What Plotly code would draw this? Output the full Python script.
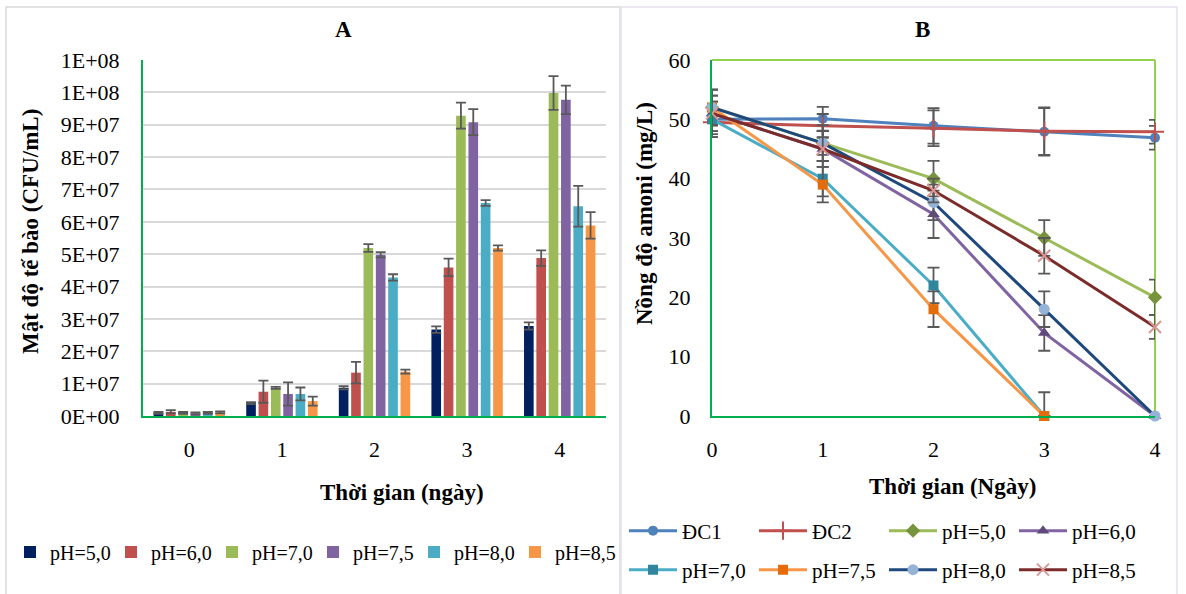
import plotly.graph_objects as go

W, H = 1186, 594
FONT = "Liberation Serif, Times New Roman, Tinos, serif"

# ---------------- Panel A data ----------------
days_a = ["0", "1", "2", "3", "4"]
ph_names = ["pH=5,0", "pH=6,0", "pH=7,0", "pH=7,5", "pH=8,0", "pH=8,5"]
bar_colors = ["#002060", "#C0504D", "#9BBB59", "#8064A2", "#4BACC6", "#F79646"]
cells_ph50 = [1.0e6, 4.0e6, 8.7e6, 2.67e7, 2.78e7]
cells_ph60 = [1.3e6, 7.5e6, 1.34e7, 4.59e7, 4.88e7]
cells_ph70 = [1.0e6, 8.7e6, 5.19e7, 9.28e7, 9.98e7]
cells_ph75 = [0.8e6, 6.8e6, 4.98e7, 9.08e7, 9.77e7]
cells_ph80 = [1.0e6, 6.8e6, 4.28e7, 6.58e7, 6.48e7]
cells_ph85 = [1.1e6, 4.6e6, 1.37e7, 5.19e7, 5.89e7]
err_ph50 = [0.3e6, 0.3e6, 0.5e6, 1.0e6, 1.1e6]
err_ph60 = [0.5e6, 3.4e6, 3.3e6, 2.7e6, 2.4e6]
err_ph70 = [0.3e6, 0.3e6, 1.2e6, 4.0e6, 5.2e6]
err_ph75 = [0.3e6, 3.6e6, 0.8e6, 4.0e6, 4.4e6]
err_ph80 = [0.3e6, 2.0e6, 1.0e6, 0.9e6, 6.3e6]
err_ph85 = [0.3e6, 1.4e6, 0.6e6, 0.8e6, 4.1e6]
cells = [cells_ph50, cells_ph60, cells_ph70, cells_ph75, cells_ph80, cells_ph85]
cells_err = [err_ph50, err_ph60, err_ph70, err_ph75, err_ph80, err_ph85]
ytick_vals_a = [0, 1e7, 2e7, 3e7, 4e7, 5e7, 6e7, 7e7, 8e7, 9e7, 1e8, 1.1e8]
ytick_text_a = ["0E+00", "1E+07", "2E+07", "3E+07", "4E+07", "5E+07", "6E+07",
                "7E+07", "8E+07", "9E+07", "1E+08", "1E+08"]

# ---------------- Panel B data ----------------
days_b = [0, 1, 2, 3, 4]
line_names = ["ĐC1", "ĐC2", "pH=5,0", "pH=6,0", "pH=7,0", "pH=7,5", "pH=8,0", "pH=8,5"]
amoni_dc1 = [50, 50.1, 48.9, 47.9, 46.9]
amoni_dc2 = [49.5, 48.9, 48.5, 48.0, 47.9]
amoni_ph50 = [52, 46, 40, 30, 20]
amoni_ph60 = [51, 45, 34, 14, 0]
amoni_ph70 = [50, 40, 22, 0]
amoni_ph75 = [52, 39, 18, 0]
amoni_ph80 = [52, 46, 36, 18, 0]
amoni_ph85 = [51, 45, 38, 27, 15]
aerr_dc1 = [3, 2, 3, 4, 2]
aerr_dc2 = [2, 2, 3, 4, 2]
aerr_ph50 = [3, 3, 3, 3, 3]
aerr_ph60 = [3, 3, 4, 3, 0]
aerr_ph70 = [3, 3, 3, 0]
aerr_ph75 = [3, 3, 3, 4]
aerr_ph80 = [3, 2, 3, 3, 0]
aerr_ph85 = [3, 2, 2, 3, 2]
amoni = [amoni_dc1, amoni_dc2, amoni_ph50, amoni_ph60, amoni_ph70, amoni_ph75, amoni_ph80, amoni_ph85]
amoni_err = [aerr_dc1, aerr_dc2, aerr_ph50, aerr_ph60, aerr_ph70, aerr_ph75, aerr_ph80, aerr_ph85]
line_colors = ["#4F81BD", "#C0504D", "#9BBB59", "#8064A2", "#4BACC6", "#F79646", "#1F497D", "#7B2C2A"]
marker_colors = ["#4F81BD", "#C0504D", "#77933C", "#604A7B", "#31859C", "#E46C0A", "#95B3D7", "#D99694"]
marker_symbols = ["circle", "cross-thin", "diamond", "triangle-up", "square", "square", "circle", "x-thin"]
marker_sizes = [10, 13, 11, 11, 10, 10, 11, 12]

fig = go.Figure()

for name, vals, errs, col in zip(ph_names, cells, cells_err, bar_colors):
    fig.add_trace(go.Bar(
        x=days_a, y=vals, name=name, marker=dict(color=col, line=dict(width=0)),
        error_y=dict(type="data", array=errs, color="#595959", thickness=1.8, width=5),
        xaxis="x", yaxis="y", legend="legend"))

for i, (name, vals, errs) in enumerate(zip(line_names, amoni, amoni_err)):
    minus = [0 if v == 0 else e for v, e in zip(vals, errs)]
    mk = dict(symbol=marker_symbols[i], size=marker_sizes[i], color=marker_colors[i])
    if marker_symbols[i].endswith("-thin"):
        mk["line"] = dict(color=marker_colors[i], width=2)
    fig.add_trace(go.Scatter(
        x=days_b[:len(vals)], y=vals, name=name, mode="lines+markers",
        line=dict(color=line_colors[i], width=3), marker=mk,
        error_y=dict(type="data", array=errs, arrayminus=minus, color="#595959",
                     thickness=1.8, width=6),
        cliponaxis=False, xaxis="x2", yaxis="y2",
        legend="legend2" if i < 4 else "legend3"))

def px_x(p):
    return p / W

def px_y(p):
    return 1 - p / H

ydom = [px_y(416), px_y(60)]
tickfont = dict(family=FONT, size=22, color="#000000")
titlefont = dict(family=FONT, size=23, color="#000000")
legfont_a = dict(family=FONT, size=20, color="#000000")
legfont_b = dict(family=FONT, size=21, color="#000000")

fig.update_layout(
    width=W, height=H, margin=dict(l=0, r=0, t=0, b=0, autoexpand=False),
    paper_bgcolor="white", plot_bgcolor="white",
    barmode="group", bargap=0.2, bargroupgap=0.22,
    font=dict(family=FONT, color="#000000"),
    xaxis=dict(domain=[px_x(143), px_x(606)], showline=True, linecolor="#00B050", linewidth=2,
               showgrid=False, ticks="", tickfont=tickfont, ticklabelstandoff=13, anchor="y",
               automargin=False),
    yaxis=dict(domain=ydom, range=[0, 1.1e8], tickvals=ytick_vals_a, ticktext=ytick_text_a,
               showline=True, linecolor="#00B050", linewidth=2, showgrid=True,
               gridcolor="#D9D9D9", gridwidth=1.5, zeroline=False, ticks="",
               tickfont=tickfont, ticklabelstandoff=17, anchor="x", automargin=False),
    xaxis2=dict(domain=[px_x(712), px_x(1155)], range=[0, 4], tickvals=days_b,
                showline=True, linecolor="#00B050", linewidth=2, showgrid=False,
                zeroline=False, ticks="", tickfont=tickfont, ticklabelstandoff=13, anchor="y2",
                automargin=False),
    yaxis2=dict(domain=ydom, range=[0, 60], dtick=10, showline=True, linecolor="#00B050",
                linewidth=2, showgrid=False, zeroline=False, ticks="", tickfont=tickfont,
                ticklabelstandoff=15, anchor="x2", automargin=False),
    legend=dict(orientation="h", x=px_x(10), y=px_y(552), xanchor="left", yanchor="middle",
                font=legfont_a, entrywidth=56, entrywidthmode="pixels", traceorder="normal"),
    legend2=dict(orientation="h", x=px_x(624), y=px_y(531), xanchor="left", yanchor="middle",
                 font=legfont_b, entrywidth=67, entrywidthmode="pixels", itemwidth=48,
                 traceorder="normal"),
    legend3=dict(orientation="h", x=px_x(624), y=px_y(570), xanchor="left", yanchor="middle",
                 font=legfont_b, entrywidth=67, entrywidthmode="pixels", itemwidth=48,
                 traceorder="normal"),
    showlegend=True,
)

ann = [
    dict(text="<b>A</b>", x=px_x(343), y=px_y(30)),
    dict(text="<b>B</b>", x=px_x(922), y=px_y(30)),
    dict(text="<b>Thời gian (ngày)</b>", x=px_x(402), y=px_y(492)),
    dict(text="<b>Thời gian (Ngày)</b>", x=px_x(952), y=px_y(486)),
    dict(text="<b>Mật độ tế bào (CFU/mL)</b>", x=px_x(30), y=px_y(232), textangle=-90),
    dict(text="<b>Nồng độ amoni (mg/L)</b>", x=px_x(644), y=px_y(214), textangle=-90),
]
for a in ann:
    fig.add_annotation(xref="paper", yref="paper", showarrow=False, xanchor="center",
                       yanchor="middle", font=titlefont, **a)

shapes = [
    dict(type="rect", xref="paper", yref="paper", x0=px_x(6), x1=px_x(620), y0=-0.01, y1=px_y(7),
         line=dict(color="#D9D9D9", width=1.5)),
    dict(type="rect", xref="paper", yref="paper", x0=px_x(621), x1=px_x(1177), y0=-0.01, y1=px_y(7),
         line=dict(color="#E6E0EC", width=1.5)),
    dict(type="line", xref="x2 domain", yref="y2 domain", x0=0, x1=1, y0=1, y1=1,
         line=dict(color="#92D050", width=2)),
    dict(type="line", xref="x2 domain", yref="y2 domain", x0=1, x1=1, y0=0, y1=1,
         line=dict(color="#92D050", width=2)),
]
for s in shapes:
    fig.add_shape(layer="below", **s)

fig.write_html("out.html")
